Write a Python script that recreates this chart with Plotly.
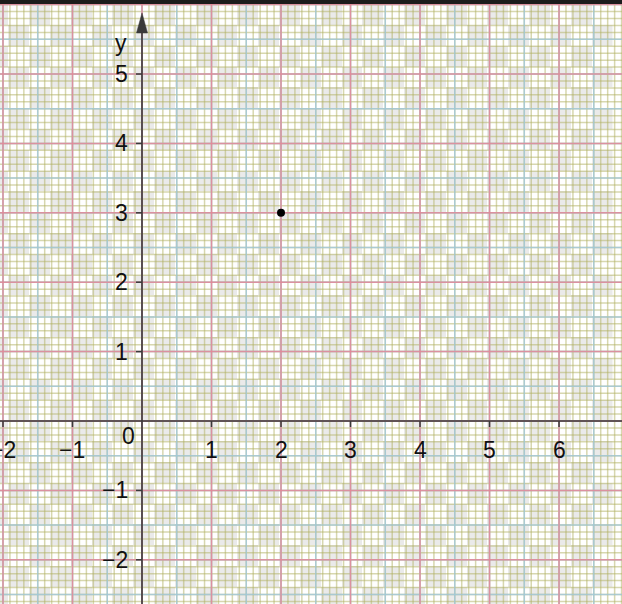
import numpy as np
import plotly.graph_objects as go

# ---- data ----
point_x = [2]
point_y = [3]
x_tick_values = [-2, -1, 1, 2, 3, 4, 5, 6]
x_tick_labels = ["−2", "−1", "1", "2", "3", "4", "5", "6"]
y_tick_values = [-2, -1, 1, 2, 3, 4, 5]
y_tick_labels = ["−2", "−1", "1", "2", "3", "4", "5"]
origin_label = "0"
y_axis_title = "y"

# ---- view ----
X_RANGE = [-2.043, 6.906]
Y_RANGE = [-2.637, 6.009]
Y_ARROW_TIP = 5.88

AXIS_COLOR = "#3a3a3a"
PINK = "rgba(228,135,150,0.85)"
BLUE = "rgba(160,200,220,0.8)"
OLIVE = "rgba(175,175,95,0.5)"
CHECK_GREY = "#eaeaea"
FONT = dict(family="Liberation Sans, Arial, sans-serif", size=23, color="#111111")

fig = go.Figure()

# checkerboard background (0.3-unit cells)
cell = 0.3
x0c, y0c = 0.475, 5.706
xe = x0c + cell * np.arange(-10, 22)
ye = y0c - cell * np.arange(-2, 30)
ye = ye[::-1]
nx, ny = len(xe) - 1, len(ye) - 1
z = np.zeros((ny, nx))
for r in range(ny):
    yc = (ye[r] + ye[r + 1]) / 2
    j = int(np.floor((y0c - yc) / cell))
    for c in range(nx):
        xc = (xe[c] + xe[c + 1]) / 2
        i = int(np.floor((xc - x0c) / cell))
        z[r, c] = 1 if (i + j) % 2 == 0 else 0
fig.add_trace(go.Heatmap(x=xe, y=ye, z=z, zmin=0, zmax=1,
                         colorscale=[[0, "white"], [1, CHECK_GREY]],
                         showscale=False, hoverinfo="skip"))


def grid_trace(step, color, width):
    xs, ys = [], []
    for v in np.arange(np.ceil(X_RANGE[0] / step) * step, X_RANGE[1] + 1e-9, step):
        xs += [v, v, None]
        ys += [Y_RANGE[0], Y_RANGE[1], None]
    for v in np.arange(np.ceil(Y_RANGE[0] / step) * step, Y_RANGE[1] + 1e-9, step):
        xs += [X_RANGE[0], X_RANGE[1], None]
        ys += [v, v, None]
    return go.Scatter(x=xs, y=ys, mode="lines", line=dict(color=color, width=width),
                      hoverinfo="skip", showlegend=False)


fig.add_trace(grid_trace(0.1, OLIVE, 1.5))
fig.add_trace(grid_trace(0.5, BLUE, 1.5))
fig.add_trace(grid_trace(1.0, PINK, 1.5))

# axes lines
fig.add_trace(go.Scatter(x=[X_RANGE[0], X_RANGE[1]], y=[0, 0], mode="lines",
                         line=dict(color=AXIS_COLOR, width=1.6), hoverinfo="skip", showlegend=False))
fig.add_trace(go.Scatter(x=[0, 0], y=[Y_RANGE[0], Y_ARROW_TIP - 0.1], mode="lines",
                         line=dict(color=AXIS_COLOR, width=1.6), hoverinfo="skip", showlegend=False))

# point
fig.add_trace(go.Scatter(x=point_x, y=point_y, mode="markers",
                         marker=dict(color="black", size=8), showlegend=False))

shapes = []
for v in x_tick_values:
    shapes.append(dict(type="line", xref="x", yref="y", ysizemode="pixel", yanchor=0,
                       x0=v, x1=v, y0=0, y1=-6, line=dict(color=AXIS_COLOR, width=1.5)))
for v in y_tick_values:
    shapes.append(dict(type="line", xref="x", yref="y", xsizemode="pixel", xanchor=0,
                       y0=v, y1=v, x0=0, x1=-6, line=dict(color=AXIS_COLOR, width=1.5)))
shapes.append(dict(type="path", xref="x", yref="y", xsizemode="pixel", ysizemode="pixel",
                   xanchor=0, yanchor=Y_ARROW_TIP, path="M0,0 L-5.5,-20 L5.5,-20 Z",
                   fillcolor=AXIS_COLOR, line=dict(color=AXIS_COLOR, width=0.5)))

annotations = []
for v, t in zip(x_tick_values, x_tick_labels):
    annotations.append(dict(x=v, y=0, xref="x", yref="y", text=t, showarrow=False,
                            xanchor="center", yanchor="middle", yshift=-29, font=FONT))
for v, t in zip(y_tick_values, y_tick_labels):
    annotations.append(dict(x=0, y=v, xref="x", yref="y", text=t, showarrow=False,
                            xanchor="right", yanchor="middle", xshift=-12, font=FONT))
annotations.append(dict(x=0, y=0, xref="x", yref="y", text=origin_label, showarrow=False,
                        xanchor="center", yanchor="middle", xshift=-14, yshift=-15, font=FONT))
annotations.append(dict(x=0, y=5, xref="x", yref="y", text=y_axis_title, showarrow=False,
                        xanchor="center", yanchor="middle", xshift=-21, yshift=31, font=FONT))

fig.update_layout(
    width=622, height=604,
    margin=dict(l=0, r=0, t=4, b=0, pad=0),
    paper_bgcolor="#1c1c1c", plot_bgcolor="white",
    xaxis=dict(range=X_RANGE, visible=False, fixedrange=True),
    yaxis=dict(range=Y_RANGE, visible=False, fixedrange=True),
    shapes=shapes, annotations=annotations, showlegend=False,
)
fig.write_html("out.html", config={"displayModeBar": False},
               post_script="document.body.style.margin='0px';")
